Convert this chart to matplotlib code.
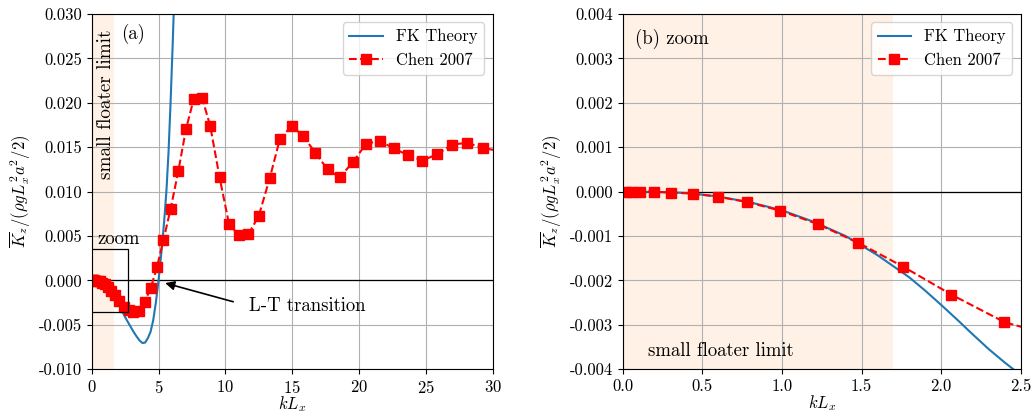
import numpy as np
import matplotlib
matplotlib.use("Agg")
import matplotlib.pyplot as plt

plt.rcParams['font.family'] = 'serif'
plt.rcParams['font.serif'] = ['cmr10', 'DejaVu Serif']
plt.rcParams['mathtext.fontset'] = 'cm'
plt.rcParams['axes.formatter.use_mathtext'] = True
plt.rcParams['font.size'] = 12

# FK theory curve
fk_x = [0.0, 0.2, 0.4, 0.6, 0.8, 1.0, 1.2, 1.4, 1.6, 1.8, 1.9, 2.0, 2.1, 2.2,
        2.3, 2.4, 2.5, 2.6, 2.8, 3.0, 3.2, 3.4, 3.6, 3.8, 4.0, 4.2, 4.4, 4.6,
        4.8, 5.0, 5.15, 5.3, 5.45, 5.6, 5.75, 5.9, 6.05, 6.2]
fk_y = [0.0, -0.000005, -0.00003, -0.00011, -0.00024, -0.00042, -0.00068,
        -0.00100, -0.00143, -0.00193, -0.00223, -0.00255, -0.00288, -0.00322,
        -0.00355, -0.00385, -0.00413, -0.00440, -0.00493, -0.00545, -0.00595,
        -0.0064, -0.0068, -0.00705, -0.0070, -0.0065, -0.0058, -0.0045,
        -0.0025, 0.0, 0.0022, 0.0045, 0.0072, 0.0103, 0.0145, 0.0200, 0.0262,
        0.0330]

# Chen 2007 data
chen_x = [0.02, 0.05, 0.109, 0.194, 0.305, 0.441, 0.596, 0.782, 0.990, 1.224,
          1.479, 1.762, 2.065, 2.398, 2.76, 3.12, 3.52, 3.96, 4.42, 4.88, 5.37,
          5.91, 6.48, 7.05, 7.63, 8.25, 8.87, 9.57, 10.27, 10.99, 11.71, 12.49,
          13.32, 14.08, 14.96, 15.80, 16.73, 17.65, 18.55, 19.54, 20.54, 21.54,
          22.59, 23.66, 24.73, 25.85, 26.97, 28.12, 29.29, 30.5]
chen_y = [0.0, 0.0, 0.0, 0.0, -0.00002, -0.000045, -0.000113, -0.000234,
          -0.000428, -0.000729, -0.00115, -0.00169, -0.00232, -0.00294, -0.0033,
          -0.0036, -0.0034, -0.00244, -0.00085, 0.0015, 0.00455, 0.0081, 0.0123,
          0.0170, 0.0204, 0.0206, 0.0174, 0.0116, 0.0064, 0.0051, 0.0052, 0.0072,
          0.0115, 0.0159, 0.0174, 0.0163, 0.0144, 0.0125, 0.0116, 0.0133, 0.0154,
          0.0157, 0.0149, 0.0141, 0.0135, 0.0142, 0.0153, 0.0155, 0.0149, 0.0146]

small_limit = 1.7

fig = plt.figure(figsize=(10.33, 4.13), dpi=100)
ax1 = fig.add_axes([0.0888, 0.106, 0.388, 0.860])
ax2 = fig.add_axes([0.6028, 0.106, 0.3853, 0.860])

ylabel = r'$\overline{K}_z/(\rho g L_x^2 a^2/2)$'

for ax in (ax1, ax2):
    ax.axvspan(0, small_limit, color='C1', alpha=0.1, lw=0)
    ax.axhline(0, color='k', lw=0.9)
    ax.plot(fk_x, fk_y, color='C0', lw=1.5, label='FK Theory')
    ax.plot(chen_x, chen_y, 'r--s', lw=1.5, markersize=6.5, label='Chen 2007')
    ax.grid(True)
    ax.set_xlabel(r'$kL_x$', labelpad=-1)
    ax.set_ylabel(ylabel)
    ax.legend(loc='upper right')

# (a) full range
ax1.set_xlim(0, 30)
ax1.set_ylim(-0.010, 0.030)
ax1.set_xticks(np.arange(0, 31, 5))
ax1.set_yticks(np.arange(-0.010, 0.0301, 0.005))
ax1.yaxis.set_major_formatter(matplotlib.ticker.FormatStrFormatter('%.3f'))
ax1.text(2.2, 0.0278, '(a)', fontsize=13.5, va='center')
ax1.text(1.1, 0.0283, 'small floater limit', rotation=90, ha='center', va='top', fontsize=13.8)
ax1.plot([0, 2.75, 2.75, 0], [0.0035, 0.0035, -0.0035, -0.0035], color='k', lw=0.9)
ax1.text(0.45, 0.0037, 'zoom', fontsize=13.5, va='bottom')
ax1.annotate('L-T transition', xy=(5.5, -0.0003), xytext=(11.8, -0.0029),
             fontsize=13.5, va='center', ha='left',
             arrowprops=dict(arrowstyle='-|>', color='k', lw=1.2, relpos=(0, 0.5),
                             shrinkA=10, shrinkB=0))

# (b) zoom
ax2.set_xlim(0, 2.5)
ax2.set_ylim(-0.004, 0.004)
ax2.set_xticks(np.arange(0, 2.51, 0.5))
ax2.set_yticks(np.arange(-0.004, 0.00401, 0.001))
ax2.xaxis.set_major_formatter(matplotlib.ticker.FormatStrFormatter('%.1f'))
ax2.yaxis.set_major_formatter(matplotlib.ticker.FormatStrFormatter('%.3f'))
ax2.text(0.08, 0.00345, '(b) zoom', fontsize=13.5, va='center')
ax2.text(0.16, -0.0036, 'small floater limit', fontsize=13.5, va='center')

fig.savefig('out.png', dpi=100)
